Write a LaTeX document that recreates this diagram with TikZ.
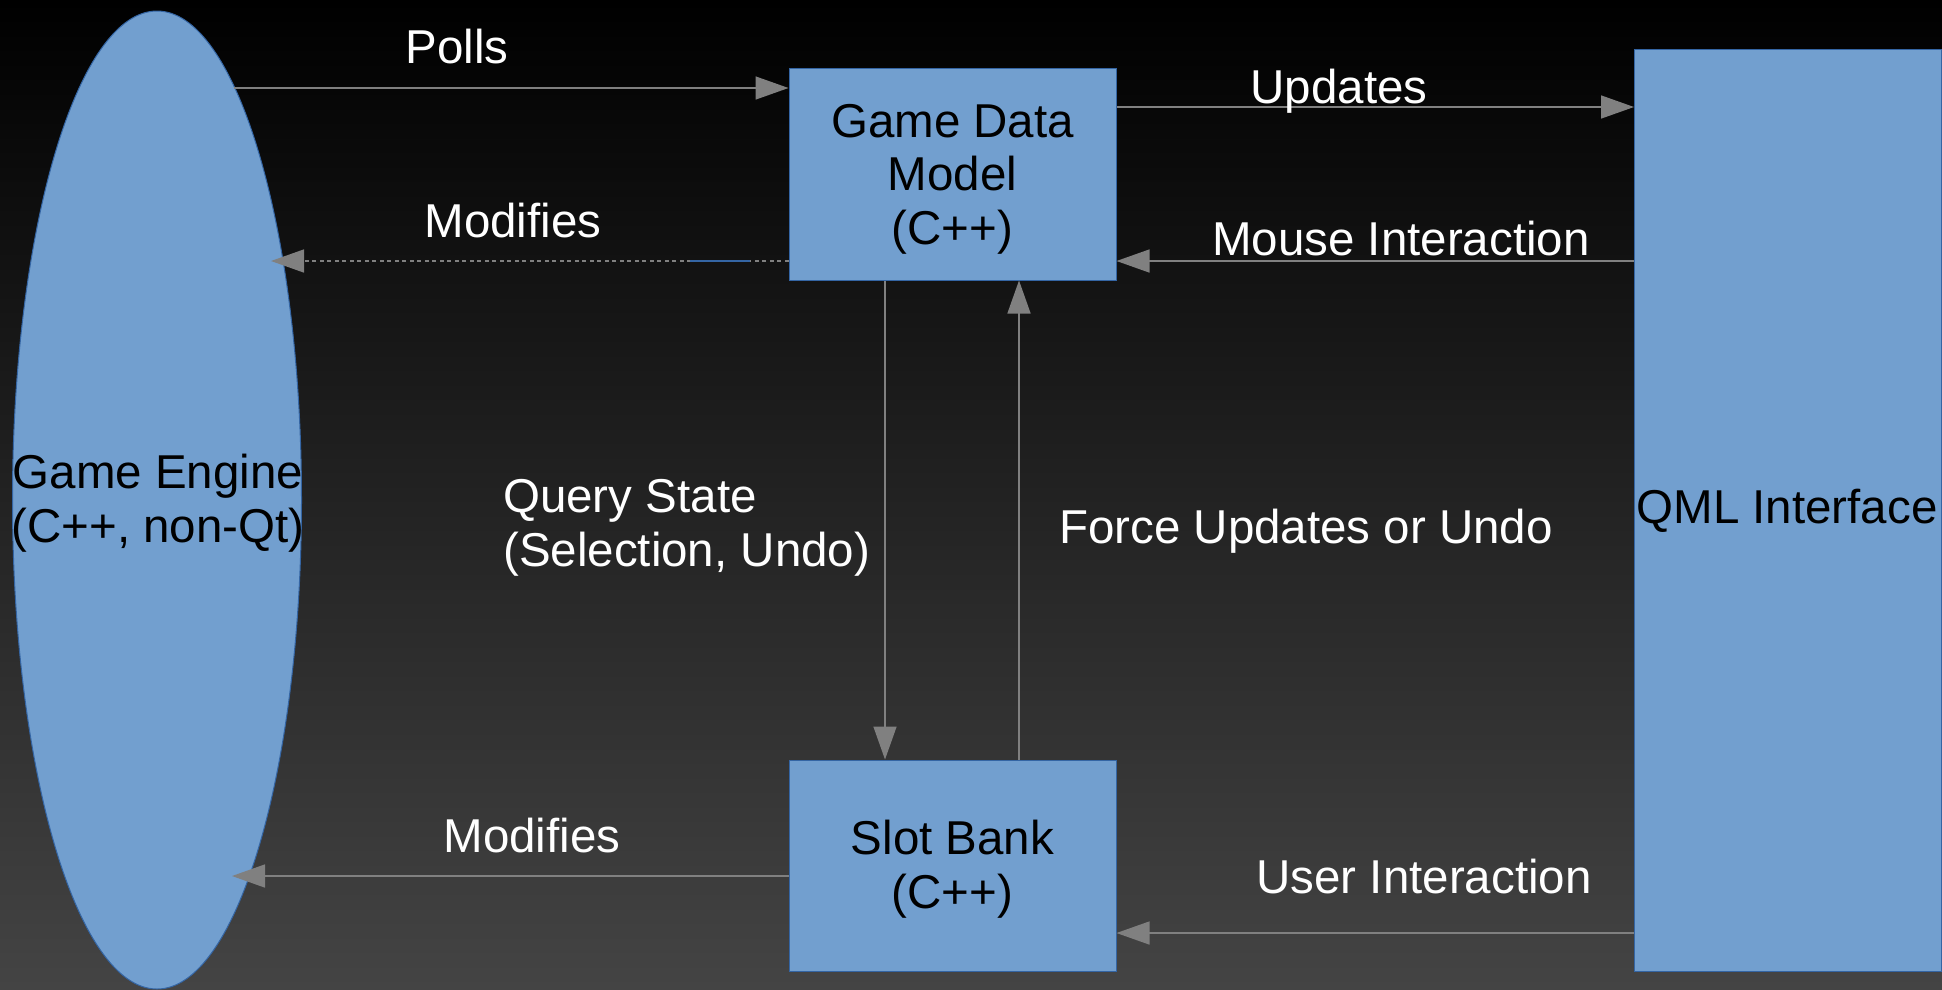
\documentclass[tikz,border=0pt]{standalone}
\usepackage{fontspec}
\setmainfont{Liberation Sans}
\usetikzlibrary{arrows.meta,shapes.geometric}
\definecolor{boxfill}{HTML}{729FCF}
\definecolor{boxline}{HTML}{3465A4}
\definecolor{arrgray}{HTML}{808080}
\definecolor{bgbot}{HTML}{444444}
\newcommand{\dgfont}{\fontsize{47.5}{53.5}\selectfont}
\begin{document}
\begin{tikzpicture}[x=1pt,y=-1pt,
  box/.style={rectangle, draw=boxline, line width=1pt, fill=boxfill, inner sep=0pt},
  boxtext/.style={font=\dgfont, text=black, align=center, inner sep=0pt, anchor=base},
  lbl/.style={text=white, font=\dgfont, inner sep=0pt, anchor=base},
  arr/.style={draw=arrgray, line width=1.5pt, -{Triangle[length=33pt,width=23pt]}},
]
\useasboundingbox (0,0) rectangle (1942,989);
\clip (0,0) rectangle (1942,989);
\shade[top color=black, bottom color=bgbot] (0,0) rectangle (1942,989);

\node[ellipse, draw=boxline, line width=1pt, fill=boxfill, minimum width=289pt, minimum height=978pt, inner sep=0pt] (engine) at (157,500) {};
\node[boxtext] (engineText) at (158,542) {Game Engine\\(C++, non-Qt)};
\node[box, minimum width=327pt, minimum height=212pt] (gdm) at (952.5,174) {};
\node[boxtext] (gdmText) at (952.5,244) {Game Data\\Model\\(C++)};
\node[box, minimum width=327pt, minimum height=211pt] (slot) at (952.5,865.5) {};
\node[boxtext] (slotText) at (952.5,908) {Slot Bank\\(C++)};
\node[box, minimum width=307pt, minimum height=922pt] (qml) at (1788,510) {};
\node[boxtext] (qmlText) at (1787,523) {QML Interface};

\coordinate (pollsA) at (234,88);
\coordinate (modA) at (271,261);
\coordinate (modB) at (232,876);
\coordinate (yUpd) at (0,107);
\coordinate (yMouse) at (0,261);
\coordinate (yUser) at (0,933);
\coordinate (xQuery) at (885,0);
\coordinate (xForce) at (1019,0);

\draw[arr] (pollsA) -- (pollsA -| gdm.west);
\draw[arr, dash pattern=on 4pt off 3.5pt] (modA -| gdm.west) -- (modA);
\draw[boxline, line width=2pt] (690,261) -- (750,261);
\draw[arr] (yUpd -| gdm.east) -- (yUpd -| qml.west);
\draw[arr] (yMouse -| qml.west) -- (yMouse -| gdm.east);
\draw[arr] (gdm.south -| xQuery) -- (slot.north -| xQuery);
\draw[arr] (slot.north -| xForce) -- (gdm.south -| xForce);
\draw[arr] (modB -| slot.west) -- (modB);
\draw[arr] (yUser -| qml.west) -- (yUser -| slot.east);

\node[lbl] (lPolls) at (457,63) {Polls};
\node[lbl] (lModA) at (513,237) {Modifies};
\node[lbl] (lUpd) at (1339,103) {Updates};
\node[lbl] (lMouse) at (1401,255) {Mouse Interaction};
\node[lbl, align=left, anchor=base west] (lQuery) at (503,566) {Query State\\(Selection, Undo)};
\node[lbl] (lForce) at (1306,543) {Force Updates or Undo};
\node[lbl] (lModB) at (532,852) {Modifies};
\node[lbl] (lUser) at (1424,893) {User Interaction};
\end{tikzpicture}
\end{document}
